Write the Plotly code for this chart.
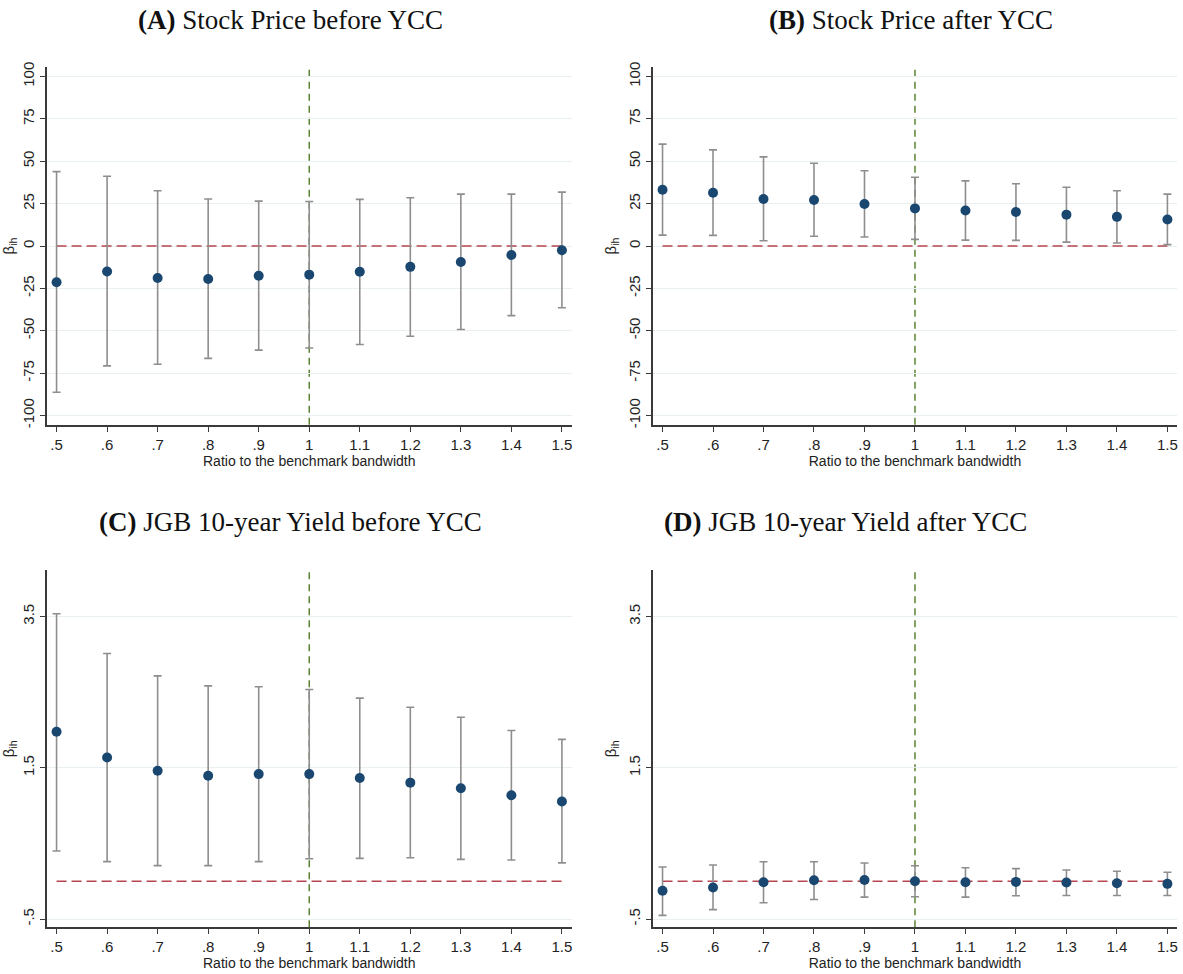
import plotly.graph_objects as go

# ---------------- data ----------------
ratio = [0.5, 0.6, 0.7, 0.8, 0.9, 1.0, 1.1, 1.2, 1.3, 1.4, 1.5]
ratio_labels = [".5", ".6", ".7", ".8", ".9", "1", "1.1", "1.2", "1.3", "1.4", "1.5"]
benchmark_ratio = 1.0
zero_ref = 0.0

a_coef = [-21.4, -15.0, -18.9, -19.5, -17.5, -16.9, -15.2, -12.3, -9.4, -5.3, -2.5]
a_hi = [43.9, 41.2, 32.6, 27.7, 26.5, 26.3, 27.5, 28.5, 30.6, 30.6, 31.8]
a_lo = [-86.3, -70.7, -69.8, -66.3, -61.4, -60.2, -58.1, -53.2, -49.3, -41.1, -36.4]

b_coef = [33.2, 31.4, 27.7, 27.1, 24.8, 22.2, 20.9, 20.1, 18.5, 17.2, 15.6]
b_hi = [60.1, 56.7, 52.6, 48.8, 44.4, 40.6, 38.4, 36.7, 34.7, 32.6, 30.6]
b_lo = [6.4, 6.3, 3.1, 5.8, 5.3, 3.9, 3.5, 3.3, 2.3, 1.8, 0.8]

c_coef = [1.976, 1.635, 1.46, 1.395, 1.416, 1.416, 1.364, 1.303, 1.229, 1.137, 1.054]
c_hi = [3.535, 3.011, 2.714, 2.583, 2.57, 2.535, 2.421, 2.299, 2.168, 1.993, 1.875]
c_lo = [0.399, 0.259, 0.206, 0.206, 0.259, 0.298, 0.302, 0.311, 0.289, 0.281, 0.242]

d_coef = [-0.127, -0.084, -0.013, 0.013, 0.017, 0.0, -0.013, -0.009, -0.018, -0.026, -0.035]
d_hi = [0.187, 0.214, 0.257, 0.257, 0.24, 0.205, 0.179, 0.166, 0.148, 0.131, 0.118]
d_lo = [-0.451, -0.376, -0.284, -0.241, -0.21, -0.206, -0.21, -0.192, -0.188, -0.188, -0.188]

stock_ticks = [-100, -75, -50, -25, 0, 25, 50, 75, 100]
stock_tick_labels = ["-100", "-75", "-50", "-25", "0", "25", "50", "75", "100"]
yield_ticks = [-0.5, 1.5, 3.5]
yield_tick_labels = ["-.5", "1.5", "3.5"]

panel_titles = [
    "<b>(A)</b> Stock Price before YCC",
    "<b>(B)</b> Stock Price after YCC",
    "<b>(C)</b> JGB 10-year Yield before YCC",
    "<b>(D)</b> JGB 10-year Yield after YCC",
]
x_title = "Ratio to the benchmark bandwidth"
y_title = "β<sub>ih</sub>"

# ---------------- style ----------------
W, H = 1183, 974
NAVY = "#1a476f"
BAR_GRAY = "#8e8e8e"
RED = "#b5454e"
GREEN = "#4e7a25"
GRID = "#e9f0f2"
AXIS = "#3a3a3a"
SANS = "Liberation Sans, Arial, sans-serif"
SERIF = "Liberation Serif, Times New Roman, serif"

fig = go.Figure()

panels = [
    (a_coef, a_hi, a_lo, "x", "y"),
    (b_coef, b_hi, b_lo, "x2", "y2"),
    (c_coef, c_hi, c_lo, "x3", "y3"),
    (d_coef, d_hi, d_lo, "x4", "y4"),
]

for coef, hi, lo, xa, ya in panels:
    # zero reference line (red dashed), drawn as a trace so it sits above the grid
    fig.add_trace(go.Scatter(
        x=[ratio[0], ratio[-1]], y=[zero_ref, zero_ref], mode="lines",
        xaxis=xa, yaxis=ya, hoverinfo="skip",
        line=dict(color=RED, width=1.6, dash="10px,5px"),
        showlegend=False,
    ))
    fig.add_trace(go.Scatter(
        x=ratio, y=coef, mode="markers", xaxis=xa, yaxis=ya,
        marker=dict(color=NAVY, size=10, line=dict(width=0)),
        error_y=dict(
            type="data", symmetric=False,
            array=[h - c for h, c in zip(hi, coef)],
            arrayminus=[c - l for c, l in zip(coef, lo)],
            color=BAR_GRAY, thickness=1.6, width=4,
        ),
        showlegend=False, cliponaxis=False,
    ))

# pixel-based domains
def xd(a, b):
    return [a / W, b / W]

def yd(top, bottom):
    return [1 - bottom / H, 1 - top / H]

x_doms = [xd(47, 572), xd(653.5, 1178), xd(47, 572), xd(653.5, 1178)]
y_doms = [yd(62.7, 423.3), yd(62.7, 423.3), yd(570, 930), yd(570, 930)]
y_ranges = [[-105.5, 105.5], [-105.5, 105.5], [-0.61, 4.11], [-0.61, 4.11]]
y_tickvals = [stock_ticks, stock_ticks, yield_ticks, yield_ticks]
y_ticktext = [stock_tick_labels, stock_tick_labels, yield_tick_labels, yield_tick_labels]

layout = dict(
    width=W, height=H,
    margin=dict(l=0, r=0, t=0, b=0),
    paper_bgcolor="white", plot_bgcolor="white",
    font=dict(family=SANS, size=15, color="#222222"),
    shapes=[], annotations=[],
)

for i in range(4):
    sfx = "" if i == 0 else str(i + 1)
    layout["xaxis" + sfx] = dict(
        domain=x_doms[i], range=[0.481, 1.519], anchor="y" + sfx,
        tickmode="array", tickvals=ratio, ticktext=ratio_labels,
        showgrid=False, zeroline=False,
        showline=True, linecolor=AXIS, linewidth=1.5,
        ticks="outside", ticklen=5, tickwidth=1.2, tickcolor=AXIS,
        tickfont=dict(family=SANS, size=15, color="#222222"),
        title=dict(text=x_title, font=dict(family=SANS, size=14, color="#222222"), standoff=2),
    )
    layout["yaxis" + sfx] = dict(
        domain=y_doms[i], range=y_ranges[i], anchor="x" + sfx,
        tickmode="array", tickvals=y_tickvals[i], ticktext=y_ticktext[i],
        tickangle=-90,
        showgrid=True, gridcolor=GRID, gridwidth=1.2, zeroline=False,
        showline=True, linecolor=AXIS, linewidth=1.5,
        ticks="outside", ticklen=5, tickwidth=1.2, tickcolor=AXIS,
        tickfont=dict(family=SANS, size=15, color="#222222"),
        title=dict(text=y_title, font=dict(family=SANS, size=15, color="#222222"), standoff=6),
    )
    xa = "x" + sfx
    ya = "y" + sfx
    # vertical benchmark line (green dashed)
    layout["shapes"].append(dict(
        type="line", xref=xa, yref=ya + " domain", x0=benchmark_ratio, x1=benchmark_ratio,
        y0=0, y1=1,
        line=dict(color=GREEN, width=1.4, dash="7px,5px"), layer="below",
    ))

title_pos = [(291, 15), (912, 15), (291, 521), (846, 521)]
for t, (cx, cy) in zip(panel_titles, title_pos):
    layout["annotations"].append(dict(
        text=t, x=cx / W, y=1 - cy / H, xref="paper", yref="paper",
        xanchor="center", yanchor="middle", showarrow=False,
        font=dict(family=SERIF, size=27, color="#111111"),
    ))

fig.update_layout(**layout)
fig.write_html("out.html")
